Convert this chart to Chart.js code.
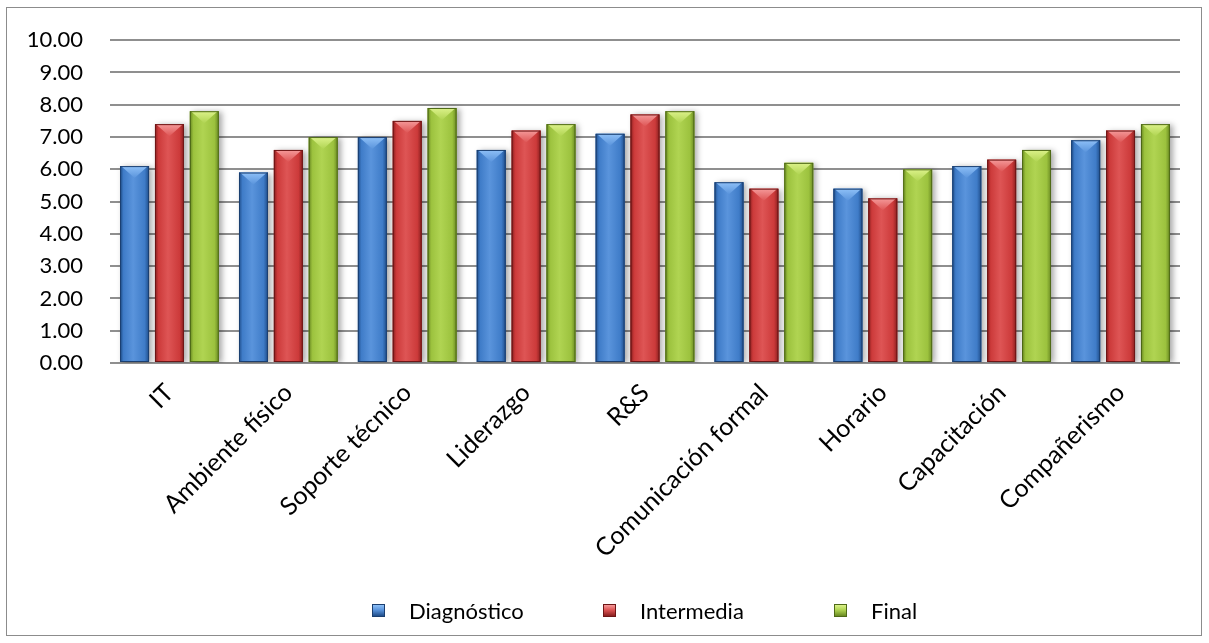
<!DOCTYPE html>
<html>
<head>
<meta charset="utf-8">
<script src="https://cdn.jsdelivr.net/npm/chart.js@4.4.1/dist/chart.umd.min.js"></script>
<style>
  html, body { margin: 0; padding: 0; background: #fff; }
  #wrap { position: relative; width: 1209px; height: 643px; overflow: hidden; }
  #frame { position: absolute; left: 6px; top: 7px; width: 1196px; height: 629px; border: 1px solid #8c8c8c; box-sizing: border-box; pointer-events: none; }
  canvas { position: absolute; left: 0; top: 0; }
  #legend { position: absolute; left: 372px; top: 596px; display: flex; font-family: Lato, sans-serif; font-size: 22px; color: #000; }
  .item { width: 231px; display: flex; align-items: center; height: 28px; }
  .swatch { width: 13px; height: 13px; margin-right: 24px; box-sizing: border-box; position: relative; }
</style>
</head>
<body>
<div id="wrap">
  <canvas id="c" width="1209" height="643"></canvas>
  <div id="frame"></div>
  <div id="legend"></div>
</div>
<script>
// Categories evaluated
const categories = ['IT', 'Ambiente físico', 'Soporte técnico', 'Liderazgo', 'R&S',
  'Comunicación formal', 'Horario', 'Capacitación', 'Compañerismo'];

// Scores per measurement stage
const diagnostico = [6.1, 5.9, 7.0, 6.6, 7.1, 5.6, 5.4, 6.1, 6.9];
const intermedia  = [7.4, 6.6, 7.5, 7.2, 7.7, 5.4, 5.1, 6.3, 7.2];
const finalScores = [7.8, 7.0, 7.9, 7.4, 7.8, 6.2, 6.0, 6.6, 7.4];

const seriesNames = ['Diagnóstico', 'Intermedia', 'Final'];

// Tick values for the value axis
const yTicks = [0, 1, 2, 3, 4, 5, 6, 7, 8, 9, 10];

// Bevel palette: edge, body, highlight, top facet
const palettes = [
  { edge: '#1f4d8a', body: '#3f7cc8', light: '#5a94dc', top: '#8ec0f7', line: '#1b3f70' },
  { edge: '#8a1f1f', body: '#cc3a3a', light: '#de5555', top: '#f59a9a', line: '#6e1616' },
  { edge: '#6a8a22', body: '#9cc23e', light: '#b0d452', top: '#dcf28a', line: '#4f6a18' }
];

const FONT = 'Lato, "Open Sans", sans-serif';

// Shaded 3D-style bar faces drawn over each bar element
const bevelPlugin = {
  id: 'bevel',
  beforeDatasetDraw(chart, args) {
    const ctx = chart.ctx;
    ctx.save();
    ctx.shadowColor = 'rgba(0,0,0,0.35)';
    ctx.shadowBlur = 6;
    ctx.shadowOffsetX = 3;
    ctx.shadowOffsetY = 1;
  },
  afterDatasetDraw(chart, args) {
    const ctx = chart.ctx;
    ctx.restore();
    const pal = palettes[args.index];
    const meta = args.meta;
    meta.data.forEach(bar => {
      const { x, y, base, width } = bar.getProps(['x', 'y', 'base', 'width'], true);
      const left = x - width / 2, right = x + width / 2;
      const h = base - y;
      ctx.save();
      const g = ctx.createLinearGradient(left, 0, right, 0);
      g.addColorStop(0, pal.edge);
      g.addColorStop(0.12, pal.body);
      g.addColorStop(0.45, pal.light);
      g.addColorStop(0.85, pal.body);
      g.addColorStop(1, pal.edge);
      ctx.fillStyle = g;
      ctx.fillRect(left, y, width, h);
      // top facet
      const d = Math.min(12, h);
      ctx.beginPath();
      ctx.moveTo(left + 1, y);
      ctx.lineTo(right - 1, y);
      ctx.lineTo(x, y + d);
      ctx.closePath();
      const tg = ctx.createLinearGradient(0, y, 0, y + d);
      tg.addColorStop(0, pal.top);
      tg.addColorStop(1, pal.light);
      ctx.fillStyle = tg;
      ctx.fill();
      ctx.strokeStyle = pal.line;
      ctx.lineWidth = 1;
      ctx.strokeRect(left + 0.5, y + 0.5, width - 1, h - 1);
      ctx.restore();
    });
  }
};

const chart = new Chart(document.getElementById('c'), {
  type: 'bar',
  data: {
    labels: categories,
    datasets: [
      { label: seriesNames[0], data: diagnostico, backgroundColor: palettes[0].body },
      { label: seriesNames[1], data: intermedia, backgroundColor: palettes[1].body },
      { label: seriesNames[2], data: finalScores, backgroundColor: palettes[2].body }
    ]
  },
  options: {
    responsive: false,
    animation: false,
    events: [],
    layout: { padding: { top: 37, right: 29, left: 0, bottom: 0 } },
    datasets: { bar: { categoryPercentage: 0.88, barPercentage: 0.83 } },
    plugins: { legend: { display: false }, tooltip: { enabled: false } },
    scales: {
      x: {
        grid: { display: false, drawTicks: false },
        border: { display: false },
        afterFit(scale) { scale.height = 643 - 363; },
        ticks: {
          minRotation: 45, maxRotation: 45, autoSkip: false,
          padding: 15,
          color: '#000',
          font: { family: FONT, size: 25 }
        }
      },
      y: {
        min: 0, max: 10,
        afterFit(scale) { scale.width = 110; },
        afterBuildTicks(scale) { scale.ticks = yTicks.map(v => ({ value: v })); },
        grid: { color: '#8f8f8f', lineWidth: 2, drawTicks: false },
        border: { display: false },
        ticks: {
          padding: 27,
          color: '#000',
          font: { family: FONT, size: 22 },
          callback: v => Number(v).toFixed(2)
        }
      }
    }
  },
  plugins: [bevelPlugin]
});

// Legend row
const legend = document.getElementById('legend');
seriesNames.forEach((name, i) => {
  const p = palettes[i];
  const item = document.createElement('div');
  item.className = 'item';
  const sw = document.createElement('div');
  sw.className = 'swatch';
  sw.style.background = `linear-gradient(to bottom, ${p.top} 0%, ${p.light} 45%, ${p.edge} 100%)`;
  sw.style.border = `1px solid ${p.line}`;
  const label = document.createElement('span');
  label.textContent = name;
  item.appendChild(sw);
  item.appendChild(label);
  legend.appendChild(item);
});
</script>
</body>
</html>
